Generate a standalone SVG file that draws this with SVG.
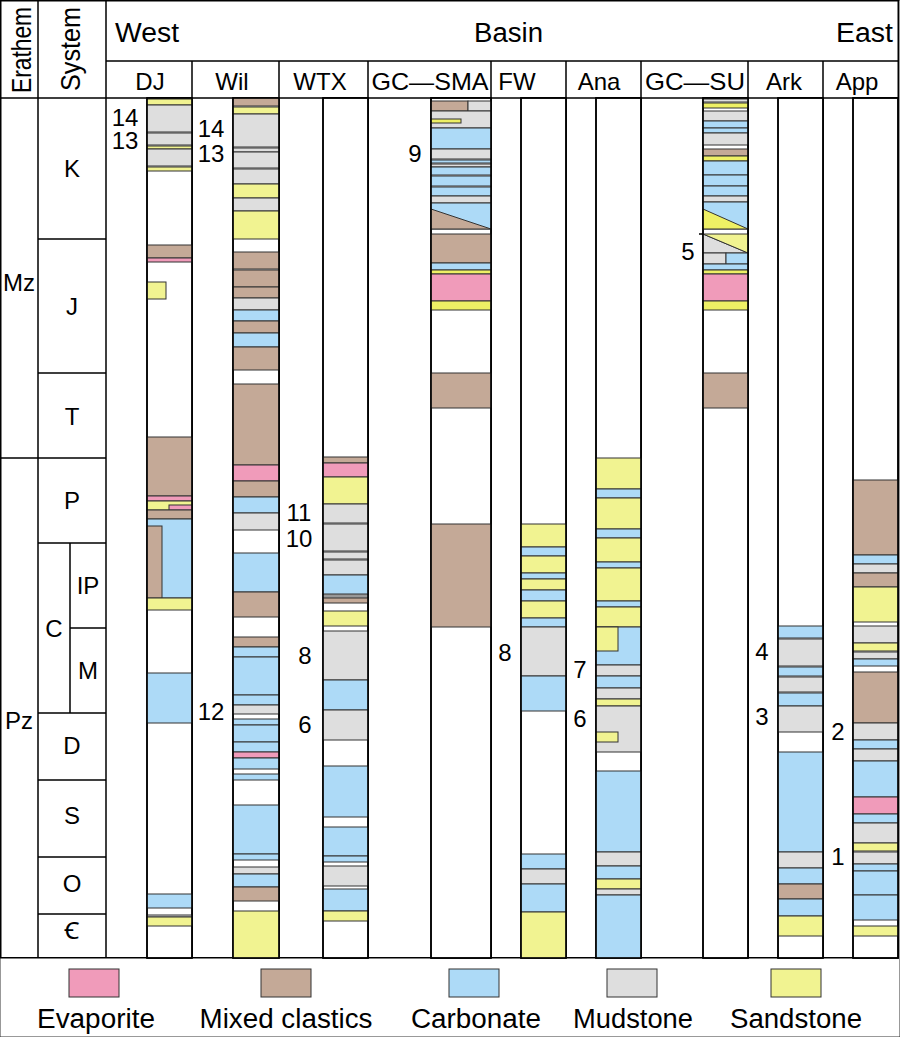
<svg xmlns="http://www.w3.org/2000/svg" width="900" height="1037" viewBox="0 0 900 1037">
<style>
text{font-family:"Liberation Sans","Noto Sans","DejaVu Sans",sans-serif;fill:#000}
.h{font-size:27px}
.c{font-size:24px;text-anchor:middle}
.r{font-size:28px;text-anchor:middle}
.n{font-size:24px;text-anchor:middle}
.lg{font-size:27px;text-anchor:middle}
rect,polygon{stroke:#333;stroke-width:1}
.ev{fill:#F09BBA}.mc{fill:#C4A997}.cb{fill:#ADDAF7}.md{fill:#DEDEDE}.ss{fill:#F1F391}.s2{fill:#EEF065}
.bar{fill:#fff;stroke:#000;stroke-width:1.5}
.bo{fill:none;stroke:#000;stroke-width:1.5}
.ln{stroke:#000;stroke-width:1.5;fill:none}
</style>
<rect x="0" y="0" width="900" height="1037" fill="#fff" stroke="none"/>

<g id="frame">
<rect x="0.75" y="0.75" width="897.5" height="957" class="bo"/>
<path class="ln" d="M38 0V958M106 0V958M106 61H898M0 98H898"/>
<path class="ln" d="M192 61V958M279 61V958M368 61V958M491 61V958M566 61V958M641 61V958M748 61V958M823 61V958"/>
<path class="ln" d="M38 239H106M38 373H106M38 458H106M38 543H106M70 628H106M70 543V713M38 713H106M38 780H106M38 857H106M38 914H106M0 458H38"/>
</g>

<g id="header">
<text x="19" y="50" class="r" transform="rotate(-90 19 50)" dy="12" textLength="86" lengthAdjust="spacingAndGlyphs">Erathem</text>
<text x="72" y="49" class="r" transform="rotate(-90 72 49)" dy="8" textLength="84" lengthAdjust="spacingAndGlyphs">System</text>
<text x="115" y="42" class="h" textLength="64" lengthAdjust="spacingAndGlyphs">West</text>
<text x="474" y="42" class="h" textLength="69" lengthAdjust="spacingAndGlyphs">Basin</text>
<text x="836" y="42" class="h" textLength="57" lengthAdjust="spacingAndGlyphs">East</text>
<text x="150" y="90" class="c">DJ</text>
<text x="232" y="90" class="c">Wil</text>
<text x="320" y="90" class="c">WTX</text>
<text x="430" y="90" class="c" textLength="117" lengthAdjust="spacingAndGlyphs">GC—SMA</text>
<text x="517" y="90" class="c">FW</text>
<text x="599" y="90" class="c">Ana</text>
<text x="695" y="90" class="c" textLength="100" lengthAdjust="spacingAndGlyphs">GC—SU</text>
<text x="784" y="90" class="c">Ark</text>
<text x="857" y="90" class="c">App</text>
</g>

<g id="timescale">
<text x="19" y="291" class="c">Mz</text>
<text x="19" y="729" class="c">Pz</text>
<text x="72" y="177" class="c">K</text>
<text x="72" y="315" class="c">J</text>
<text x="72" y="425" class="c">T</text>
<text x="72" y="509" class="c">P</text>
<text x="54" y="637" class="c">C</text>
<text x="88" y="594" class="c">IP</text>
<text x="88" y="679" class="c">M</text>
<text x="72" y="754" class="c">D</text>
<text x="72" y="824" class="c">S</text>
<text x="72" y="892" class="c">O</text>
<text x="72" y="939" class="c">Ꞓ</text>
</g>

<g id="col-DJ" transform="translate(147,0)">
<rect class="bar" x="0" y="98" width="45" height="860"/>
<rect class="ss" x="0" y="99" width="45" height="6"/>
<rect class="md" x="0" y="105" width="45" height="27"/>
<rect class="md" x="0" y="133" width="45" height="12"/>
<rect class="ss" x="0" y="146" width="45" height="3"/>
<rect class="md" x="0" y="149" width="45" height="17"/>
<rect class="ss" x="0" y="167" width="45" height="4"/>
<rect class="mc" x="0" y="245" width="45" height="13"/>
<rect class="ev" x="0" y="258" width="45" height="4"/>
<rect class="ss" x="0" y="282" width="19" height="17"/>
<rect class="mc" x="0" y="437" width="45" height="59"/>
<rect class="ev" x="0" y="496" width="45" height="5"/>
<rect class="ss" x="0" y="501" width="45" height="9"/>
<rect class="ev" x="22" y="505" width="23" height="5"/>
<rect class="mc" x="0" y="510" width="45" height="9"/>
<rect class="cb" x="0" y="519" width="45" height="79"/>
<rect class="mc" x="0" y="526" width="15" height="72"/>
<rect class="ss" x="0" y="598" width="45" height="12"/>
<rect class="cb" x="0" y="673" width="45" height="50"/>
<rect class="cb" x="0" y="894" width="45" height="14"/>
<rect class="md" x="0" y="915" width="45" height="2"/>
<rect class="ss" x="0" y="917" width="45" height="9"/>
<rect class="bo" x="0" y="98" width="45" height="860"/>
<text x="-22" y="126" class="n" font-size="23">14</text>
<text x="-22" y="149" class="n" font-size="23">13</text>
</g>

<g id="col-Wil" transform="translate(233,0)">
<rect class="bar" x="0" y="98" width="46" height="860"/>
<rect class="mc" x="0" y="98" width="46" height="8"/>
<rect class="ss" x="0" y="107" width="46" height="7"/>
<rect class="md" x="0" y="114" width="46" height="33"/>
<rect class="md" x="0" y="148" width="46" height="4"/>
<rect class="md" x="0" y="152" width="46" height="16"/>
<rect class="md" x="0" y="169" width="46" height="15"/>
<rect class="ss" x="0" y="184" width="46" height="14"/>
<rect class="md" x="0" y="198" width="46" height="13"/>
<rect class="ss" x="0" y="211" width="46" height="28"/>
<rect class="mc" x="0" y="252" width="46" height="17"/>
<rect class="mc" x="0" y="270" width="46" height="17"/>
<rect class="mc" x="0" y="287" width="46" height="11"/>
<rect class="md" x="0" y="298" width="46" height="12"/>
<rect class="cb" x="0" y="310" width="46" height="11"/>
<rect class="mc" x="0" y="321" width="46" height="12"/>
<rect class="cb" x="0" y="333" width="46" height="14"/>
<rect class="mc" x="0" y="347" width="46" height="23"/>
<rect class="mc" x="0" y="384" width="46" height="81"/>
<rect class="ev" x="0" y="465" width="46" height="16"/>
<rect class="mc" x="0" y="481" width="46" height="16"/>
<rect class="cb" x="0" y="497" width="46" height="16"/>
<rect class="md" x="0" y="513" width="46" height="17"/>
<rect class="cb" x="0" y="553" width="46" height="39"/>
<rect class="mc" x="0" y="592" width="46" height="25"/>
<rect class="mc" x="0" y="637" width="46" height="10"/>
<rect class="cb" x="0" y="647" width="46" height="10"/>
<rect class="cb" x="0" y="657" width="46" height="38"/>
<rect class="cb" x="0" y="695" width="46" height="10"/>
<rect class="md" x="0" y="705" width="46" height="9"/>
<rect class="cb" x="0" y="719" width="46" height="6"/>
<rect class="cb" x="0" y="725" width="46" height="17"/>
<rect class="cb" x="0" y="742" width="46" height="10"/>
<rect class="ev" x="0" y="752" width="46" height="6"/>
<rect class="cb" x="0" y="758" width="46" height="11"/>
<rect class="cb" x="0" y="774" width="46" height="6"/>
<rect class="cb" x="0" y="805" width="46" height="49"/>
<rect class="cb" x="0" y="854" width="46" height="6"/>
<rect class="md" x="0" y="867" width="46" height="7"/>
<rect class="cb" x="0" y="874" width="46" height="13"/>
<rect class="mc" x="0" y="887" width="46" height="14"/>
<rect class="ss" x="0" y="911" width="46" height="47"/>
<rect class="bo" x="0" y="98" width="46" height="860"/>
<text x="-22" y="137" class="n">14</text>
<text x="-22" y="162" class="n">13</text>
<text x="-22" y="720" class="n">12</text>
</g>

<g id="col-WTX" transform="translate(323,0)">
<rect class="bar" x="0" y="98" width="45" height="860"/>
<rect class="mc" x="0" y="457" width="45" height="6"/>
<rect class="ev" x="0" y="463" width="45" height="14"/>
<rect class="ss" x="0" y="477" width="45" height="27"/>
<rect class="md" x="0" y="504" width="45" height="19"/>
<rect class="md" x="0" y="524" width="45" height="27"/>
<rect class="md" x="0" y="552" width="45" height="7"/>
<rect class="md" x="0" y="560" width="45" height="15"/>
<rect class="cb" x="0" y="575" width="45" height="19"/>
<rect fill="#fff" x="0" y="595" width="45" height="2"/>
<rect class="mc" x="0" y="598" width="45" height="5"/>
<rect class="ss" x="0" y="611" width="45" height="15"/>
<rect class="md" x="0" y="631" width="45" height="49"/>
<rect class="cb" x="0" y="680" width="45" height="30"/>
<rect class="md" x="0" y="710" width="45" height="30"/>
<rect class="cb" x="0" y="766" width="45" height="51"/>
<rect class="cb" x="0" y="827" width="45" height="29"/>
<rect class="cb" x="0" y="856" width="45" height="6"/>
<rect class="md" x="0" y="866" width="45" height="20"/>
<rect class="cb" x="0" y="889" width="45" height="22"/>
<rect class="ss" x="0" y="911" width="45" height="10"/>
<rect class="bo" x="0" y="98" width="45" height="860"/>
<text x="-24" y="521" class="n">11</text>
<text x="-24" y="547" class="n">10</text>
<text x="-18" y="664" class="n">8</text>
<text x="-18" y="733" class="n">6</text>
</g>

<g id="col-GC-SMA" transform="translate(431,0)">
<rect class="bar" x="0" y="98" width="60" height="860"/>
<rect class="mc" x="0" y="101" width="37" height="10"/>
<rect class="md" x="37" y="101" width="23" height="10"/>
<rect class="md" x="0" y="111" width="60" height="17"/>
<rect class="s2" x="0" y="119" width="30" height="4"/>
<rect class="cb" x="0" y="128" width="60" height="21"/>
<rect class="md" x="0" y="149" width="60" height="10"/>
<rect class="cb" x="0" y="160" width="60" height="3"/>
<rect class="md" x="0" y="164" width="60" height="3"/>
<rect class="cb" x="0" y="167" width="60" height="8"/>
<rect class="cb" x="0" y="176" width="60" height="10"/>
<rect class="cb" x="0" y="187" width="60" height="9"/>
<rect class="md" x="0" y="196" width="60" height="7"/>
<rect class="cb" x="0" y="203" width="60" height="26"/>
<polygon class="mc" points="0,209 60,229 0,229"/>
<rect class="mc" x="0" y="234" width="60" height="29"/>
<rect class="cb" x="0" y="263" width="60" height="7"/>
<rect class="s2" x="0" y="270" width="60" height="4"/>
<rect class="ev" x="0" y="274" width="60" height="27"/>
<rect class="s2" x="0" y="301" width="60" height="9"/>
<rect class="mc" x="0" y="373" width="60" height="35"/>
<rect class="mc" x="0" y="524" width="60" height="103"/>
<rect class="bo" x="0" y="98" width="60" height="860"/>
<text x="-16" y="162" class="n">9</text>
</g>

<g id="col-FW" transform="translate(521,0)">
<rect class="bar" x="0" y="98" width="45" height="860"/>
<rect class="ss" x="0" y="524" width="45" height="23"/>
<rect class="cb" x="0" y="547" width="45" height="9"/>
<rect class="ss" x="0" y="556" width="45" height="17"/>
<rect class="cb" x="0" y="573" width="45" height="6"/>
<rect class="ss" x="0" y="579" width="45" height="11"/>
<rect class="cb" x="0" y="590" width="45" height="11"/>
<rect class="ss" x="0" y="601" width="45" height="17"/>
<rect class="cb" x="0" y="618" width="45" height="9"/>
<rect class="md" x="0" y="627" width="45" height="49"/>
<rect class="cb" x="0" y="676" width="45" height="35"/>
<rect class="cb" x="0" y="854" width="45" height="15"/>
<rect class="md" x="0" y="869" width="45" height="15"/>
<rect class="cb" x="0" y="884" width="45" height="28"/>
<rect class="ss" x="0" y="912" width="45" height="46"/>
<rect class="bo" x="0" y="98" width="45" height="860"/>
<text x="-16" y="661" class="n">8</text>
</g>

<g id="col-Ana" transform="translate(596,0)">
<rect class="bar" x="0" y="98" width="45" height="860"/>
<rect class="ss" x="0" y="458" width="45" height="31"/>
<rect class="cb" x="0" y="489" width="45" height="9"/>
<rect class="ss" x="0" y="498" width="45" height="31"/>
<rect class="cb" x="0" y="529" width="45" height="9"/>
<rect class="ss" x="0" y="538" width="45" height="24"/>
<rect class="cb" x="0" y="562" width="45" height="6"/>
<rect class="ss" x="0" y="568" width="45" height="33"/>
<rect class="cb" x="0" y="601" width="45" height="6"/>
<rect class="ss" x="0" y="607" width="45" height="20"/>
<rect class="cb" x="0" y="627" width="45" height="38"/>
<rect class="ss" x="0" y="627" width="22" height="24"/>
<rect class="md" x="0" y="665" width="45" height="11"/>
<rect class="cb" x="0" y="676" width="45" height="12"/>
<rect class="md" x="0" y="688" width="45" height="11"/>
<rect class="ss" x="0" y="699" width="45" height="7"/>
<rect class="md" x="0" y="706" width="45" height="46"/>
<rect class="ss" x="0" y="732" width="22" height="10"/>
<rect class="cb" x="0" y="771" width="45" height="81"/>
<rect class="md" x="0" y="852" width="45" height="14"/>
<rect class="cb" x="0" y="866" width="45" height="13"/>
<rect class="ss" x="0" y="879" width="45" height="10"/>
<rect class="md" x="0" y="889" width="45" height="6"/>
<rect class="cb" x="0" y="895" width="45" height="63"/>
<rect class="bo" x="0" y="98" width="45" height="860"/>
<text x="-16" y="678" class="n">7</text>
<text x="-16" y="727" class="n">6</text>
</g>

<g id="col-GC-SU" transform="translate(703,0)">
<rect class="bar" x="0" y="98" width="45" height="860"/>
<rect class="md" x="0" y="99" width="45" height="3"/>
<rect class="s2" x="0" y="103" width="45" height="5"/>
<rect class="md" x="0" y="111" width="45" height="10"/>
<rect class="cb" x="0" y="121" width="45" height="7"/>
<rect class="cb" x="0" y="128" width="45" height="5"/>
<rect class="md" x="0" y="133" width="45" height="12"/>
<rect class="mc" x="0" y="149" width="45" height="7"/>
<rect class="s2" x="0" y="156" width="45" height="5"/>
<rect class="cb" x="0" y="161" width="45" height="14"/>
<rect class="cb" x="0" y="175" width="45" height="11"/>
<rect class="cb" x="0" y="186" width="45" height="10"/>
<rect class="md" x="0" y="196" width="45" height="6"/>
<rect class="cb" x="0" y="202" width="45" height="27"/>
<polygon class="s2" points="0,209 45,229 0,229"/>
<polygon class="md" points="0,234 45,253 0,253"/>
<polygon class="ss" points="0,234 45,234 45,253"/>
<rect class="md" x="0" y="253" width="23" height="11"/>
<rect class="cb" x="23" y="253" width="22" height="11"/>
<rect class="cb" x="0" y="264" width="45" height="6"/>
<rect class="s2" x="0" y="270" width="45" height="4"/>
<rect class="ev" x="0" y="274" width="45" height="27"/>
<rect class="s2" x="0" y="301" width="45" height="9"/>
<rect class="mc" x="0" y="373" width="45" height="35"/>
<rect class="bo" x="0" y="98" width="45" height="860"/>
<path class="ln" d="M-4 234H0" stroke-width="1"/>
<text x="-15" y="260" class="n">5</text>
</g>

<g id="col-Ark" transform="translate(778,0)">
<rect class="bar" x="0" y="98" width="45" height="860"/>
<rect class="cb" x="0" y="626" width="45" height="12"/>
<rect class="md" x="0" y="639" width="45" height="27"/>
<rect class="cb" x="0" y="667" width="45" height="9"/>
<rect class="md" x="0" y="677" width="45" height="15"/>
<rect class="cb" x="0" y="693" width="45" height="13"/>
<rect class="md" x="0" y="706" width="45" height="26"/>
<rect class="cb" x="0" y="752" width="45" height="100"/>
<rect class="md" x="0" y="852" width="45" height="16"/>
<rect class="cb" x="0" y="868" width="45" height="16"/>
<rect class="mc" x="0" y="884" width="45" height="15"/>
<rect class="cb" x="0" y="899" width="45" height="17"/>
<rect class="ss" x="0" y="916" width="45" height="20"/>
<rect class="bo" x="0" y="98" width="45" height="860"/>
<text x="-16" y="660" class="n">4</text>
<text x="-16" y="725" class="n">3</text>
</g>

<g id="col-App" transform="translate(853,0)">
<rect class="bar" x="0" y="98" width="45" height="860"/>
<rect class="mc" x="0" y="480" width="45" height="75"/>
<rect class="cb" x="0" y="555" width="45" height="9"/>
<rect class="md" x="0" y="564" width="45" height="9"/>
<rect class="mc" x="0" y="573" width="45" height="14"/>
<rect class="ss" x="0" y="587" width="45" height="35"/>
<rect class="md" x="0" y="626" width="45" height="17"/>
<rect class="ss" x="0" y="643" width="45" height="8"/>
<rect class="md" x="0" y="652" width="45" height="7"/>
<rect class="cb" x="0" y="659" width="45" height="7"/>
<rect class="mc" x="0" y="672" width="45" height="51"/>
<rect class="md" x="0" y="723" width="45" height="17"/>
<rect class="cb" x="0" y="740" width="45" height="9"/>
<rect class="md" x="0" y="749" width="45" height="12"/>
<rect class="cb" x="0" y="761" width="45" height="36"/>
<rect class="ev" x="0" y="797" width="45" height="17"/>
<rect class="cb" x="0" y="814" width="45" height="9"/>
<rect class="md" x="0" y="823" width="45" height="20"/>
<rect class="ss" x="0" y="843" width="45" height="8"/>
<rect class="md" x="0" y="852" width="45" height="12"/>
<rect class="cb" x="0" y="864" width="45" height="7"/>
<rect class="cb" x="0" y="871" width="45" height="24"/>
<rect class="cb" x="0" y="895" width="45" height="25"/>
<rect class="ss" x="0" y="926" width="45" height="10"/>
<rect class="bo" x="0" y="98" width="45" height="860"/>
<text x="-15" y="740" class="n">2</text>
<text x="-15" y="865" class="n">1</text>
</g>

<g id="legend">
<rect class="ev" x="69" y="969" width="50" height="28"/>
<rect class="mc" x="261" y="969" width="50" height="28"/>
<rect class="cb" x="449" y="969" width="50" height="28"/>
<rect class="md" x="607" y="969" width="50" height="28"/>
<rect class="ss" x="771" y="969" width="50" height="28"/>
<text x="96" y="1028" class="lg" textLength="118" lengthAdjust="spacingAndGlyphs">Evaporite</text>
<text x="286" y="1028" class="lg" textLength="173" lengthAdjust="spacingAndGlyphs">Mixed clastics</text>
<text x="476" y="1028" class="lg" textLength="130" lengthAdjust="spacingAndGlyphs">Carbonate</text>
<text x="633" y="1028" class="lg" textLength="120" lengthAdjust="spacingAndGlyphs">Mudstone</text>
<text x="796" y="1028" class="lg" textLength="132" lengthAdjust="spacingAndGlyphs">Sandstone</text>
</g>
</svg>
